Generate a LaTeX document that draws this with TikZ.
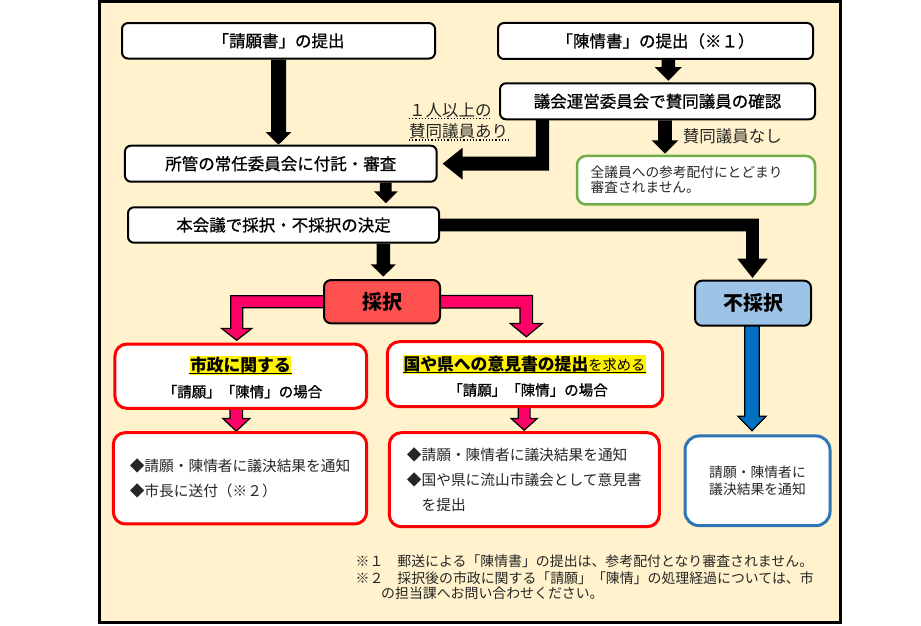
\documentclass[tikz,border=0pt]{standalone}
\usepackage{fontspec}
\setmainfont{Noto Sans CJK JP}
\newfontfamily\semib[FakeBold=0.8]{Noto Sans CJK JP}
\usetikzlibrary{calc}
\definecolor{cream}{HTML}{FFF2CC}
\definecolor{saired}{HTML}{FF5050}
\definecolor{pinkarr}{HTML}{FF0066}
\definecolor{fsblue}{HTML}{9DC3E6}
\definecolor{arrblue}{HTML}{0070C0}
\definecolor{bxblue}{HTML}{2E75B6}
\definecolor{bxgreen}{HTML}{70AD47}
\definecolor{txtgray}{HTML}{262626}
\pgfdeclarelayer{bg}\pgfdeclarelayer{arr}\pgfsetlayers{bg,arr,main}
\newcommand\fsz[2]{\fontsize{#1}{#2}\selectfont}
% straight down block arrow: style, from, tip, half shaft, half head, head length
\newcommand\dnarr[6]{\filldraw[#1] let \p1=(#2), \p2=(#3) in
  ({\x2-#4pt},\y1) -- ({\x2-#4pt},{\y2+#6pt}) -- ({\x2-#5pt},{\y2+#6pt}) -- (\x2,\y2)
  -- ({\x2+#5pt},{\y2+#6pt}) -- ({\x2+#4pt},{\y2+#6pt}) -- ({\x2+#4pt},\y1) -- cycle;}
% horizontal-then-down block arrow: style, from, tip, half shaft, half head, head length, sign
\newcommand\elbarr[7]{\filldraw[#1] let \p1=(#2), \p2=(#3) in
  (\x1,{\y1+#4pt}) -- ({\x2+#7*#4pt},{\y1+#4pt}) -- ({\x2+#7*#4pt},{\y2+#6pt}) -- ({\x2+#7*#5pt},{\y2+#6pt}) -- (\x2,\y2)
  -- ({\x2-#7*#5pt},{\y2+#6pt}) -- ({\x2-#7*#4pt},{\y2+#6pt}) -- ({\x2-#7*#4pt},{\y1-#4pt}) -- (\x1,{\y1-#4pt}) -- cycle;}
\tikzset{
 wbox/.style={draw=black, line width=2pt, fill=white, rounded corners=6pt, inner sep=0pt, font=\semib\fsz{16.5}{18}},
 redbox/.style={draw=red, line width=3pt, fill=white, rounded corners=12pt, inner sep=0pt},
 lbltxt/.style={inner sep=0pt, font=\fsz{16.5}{18}, text=txtgray},
 blk/.style={fill=black, draw=none},
 pnk/.style={fill=pinkarr, draw=black, line width=1.2pt, line join=miter},
 blu/.style={fill=arrblue, draw=black, line width=1.2pt, line join=miter},
}
\begin{document}
\begin{tikzpicture}[x=1pt,y=-1pt]
\useasboundingbox (0,0) rectangle (921,626);
\begin{pgfonlayer}{bg}
\draw[line width=3pt, fill=cream] (99.5,1.5) rectangle (840.5,622);
\end{pgfonlayer}

% top boxes
\node[wbox, minimum width=313pt, minimum height=35.5pt] (seigan) at (278.5,40.8) {「請願書」の提出};
\node[wbox, minimum width=315pt, minimum height=36pt] (chinjo) at (655.5,41) {「陳情書」の提出（※１）};
\node[wbox, minimum width=315pt, minimum height=36pt] (gikai) at (657.5,101.3) {議会運営委員会で賛同議員の確認};
\node[wbox, minimum width=311.7pt, minimum height=36pt] (shokan) at (280.8,163.7) {所管の常任委員会に付託・審査};
\node[wbox, minimum width=311pt, minimum height=35.4pt] (honkaigi) at (283.5,225) {本会議で採択・不採択の決定};

% green box
\node[draw=bxgreen, line width=2.5pt, fill=white, rounded corners=9pt, minimum width=238pt, minimum height=48.5pt] (green) at (696,180.2) {};
\node[anchor=west, inner sep=0pt, align=left, font=\fsz{13.7}{14.2}, text=txtgray] (gtxt) at (590.5,179.7) {全議員への参考配付にとどまり\\審査されません。};

% labels
\node[lbltxt, anchor=west] (lbl1) at (409,110) {１人以上の};
\node[lbltxt, anchor=west] (lbl2) at (409,131.7) {賛同議員あり};
\draw[dotted, line width=1.2pt] ($(lbl1.south west)+(0,0.5)$) -- ($(lbl1.south east)+(0,0.5)$);
\draw[dotted, line width=1.2pt] ($(lbl2.south west)+(0,0.5)$) -- ($(lbl2.south east)+(0,0.5)$);
\node[lbltxt] (lbl3) at (732.3,136.7) {賛同議員なし};

% decision boxes
\node[draw=black, line width=2pt, fill=saired, rounded corners=7pt, minimum width=116pt, minimum height=43.3pt, inner sep=0pt, font=\bfseries\fsz{20}{20}] (saitaku) at (382,301.7) {採択};
\node[draw=black, line width=2pt, fill=fsblue, rounded corners=7pt, minimum width=116pt, minimum height=45pt, inner sep=0pt, font=\bfseries\fsz{20}{20}] (fusaitaku) at (753,303.2) {不採択};

% red boxes
\node[redbox, minimum width=251.7pt, minimum height=64.3pt] (lbox1) at (240.8,376.2) {};
\node[fill=yellow, inner xsep=0.5pt, inner ysep=1pt, font=\bfseries\fsz{16.8}{18}] (hl1) at (240.4,365.5) {市政に関する};
\draw[line width=1pt] ($(hl1.south west)+(0,-1)$) -- ($(hl1.south east)+(0,-1)$);
\node[inner sep=0pt, font=\semib\fsz{14.5}{16}] (sub1) at (242.5,391.7) {「請願」「陳情」の場合};

\node[redbox, minimum width=275.4pt, minimum height=65pt] (rbox1) at (525,374.2) {};
\node[fill=yellow, inner xsep=0.5pt, inner ysep=1pt, font=\fsz{16.8}{18}] (hl2) at (524.5,364.5) {{\bfseries 国や県への意見書の提出}{\fsz{14.3}{16}を求める}};
\draw[line width=1pt] ($(hl2.south west)+(0,-1)$) -- ($(hl2.south east)+(0,-1)$);
\node[inner sep=0pt, font=\semib\fsz{14.5}{16}] (sub2) at (528,390) {「請願」「陳情」の場合};

\node[redbox, minimum width=253.4pt, minimum height=91.3pt, align=left, font=\fsz{14.7}{24.3}, text=txtgray] (lbox2) at (240,478.3) {◆請願・陳情者に議決結果を通知\\◆市長に送付（※２）};
\node[redbox, minimum width=270pt, minimum height=94pt, align=left, font=\fsz{14.7}{24.8}, text=txtgray] (rbox2) at (524.3,479.7) {◆請願・陳情者に議決結果を通知\\◆国や県に流山市議会として意見書\\\hspace*{1em}を提出};

% blue box
\node[draw=bxblue, line width=3pt, fill=white, rounded corners=14pt, minimum width=145pt, minimum height=89.7pt, align=center, inner sep=0pt, font=\fsz{13.8}{17.6}, text=txtgray] (bluebox) at (757.5,480.8) {請願・陳情者に\\議決結果を通知};

% footnotes
\node[anchor=west, inner sep=0pt, font=\fsz{13.9}{16}, text=txtgray] (fn1) at (355.5,561) {※１　郵送による「陳情書」の提出は、参考配付となり審査されません。};
\node[anchor=west, inner sep=0pt, font=\fsz{13.9}{16}, text=txtgray] (fn2) at (355.5,578.3) {※２　採択後の市政に関する「請願」「陳情」の処理経過については、市};
\node[anchor=west, inner sep=0pt, font=\fsz{13.9}{16}, text=txtgray] (fn3) at (381,593.3) {の担当課へお問い合わせください。};

% arrows
\begin{pgfonlayer}{arr}
\dnarr{blk}{seigan.south}{seigan.south |- shokan.north}{7.5}{13}{12.7}
\dnarr{blk}{chinjo.south}{$(gikai.north)+(10.8,-1.5)$}{6.7}{13.5}{13.7}
\dnarr{blk}{gikai.south}{$(green.north)+(-31,-1)$}{6.8}{13.3}{13.3}
\dnarr{blk}{shokan.south}{$(honkaigi.north)+(102.3,-3)$}{5.9}{11.9}{12}
\dnarr{blk}{honkaigi.south}{$(saitaku.north)+(1.3,-2.5)$}{6.7}{12.7}{12.3}
\elbarr{blk}{$(honkaigi.east)+(-3,0)$}{$(fusaitaku.north)+(-0.5,-1.7)$}{6.3}{15.2}{19.3}{1}
\filldraw[blk] let \p1=($(gikai.south west)+(43.5,-3)$), \p2=($(shokan.east)+(5,0)$) in
  ({\x1+6.7pt},\y1) -- ({\x1+6.7pt},{\y2-7pt}) -- ({\x2+20pt},{\y2-7pt}) -- ({\x2+20pt},{\y2-16pt}) -- (\x2,\y2)
  -- ({\x2+20pt},{\y2+16pt}) -- ({\x2+20pt},{\y2+7pt}) -- ({\x1-6.7pt},{\y2+7pt}) -- ({\x1-6.7pt},\y1) -- cycle;
\elbarr{pnk}{$(saitaku.west)+(3,0)$}{$(lbox1.north)+(-4.1,-2.3)$}{6}{15}{11.7}{-1}
\elbarr{pnk}{$(saitaku.east)+(-3,0)$}{$(rbox1.north)+(1.3,-3.4)$}{6.3}{16}{13.3}{1}
\dnarr{pnk}{$(lbox1.south)+(0,-3)$}{$(lbox2.north)+(-3.7,0)$}{6.3}{13.5}{12.7}
\dnarr{pnk}{$(rbox1.south)+(0,-3)$}{$(rbox2.north)+(-0.1,-1)$}{5.9}{13}{11.7}
\dnarr{blu}{$(fusaitaku.south)+(0,-3)$}{$(bluebox.north)+(-5.5,-3.7)$}{7.2}{14.2}{14.6}
\end{pgfonlayer}
\end{tikzpicture}
\end{document}
